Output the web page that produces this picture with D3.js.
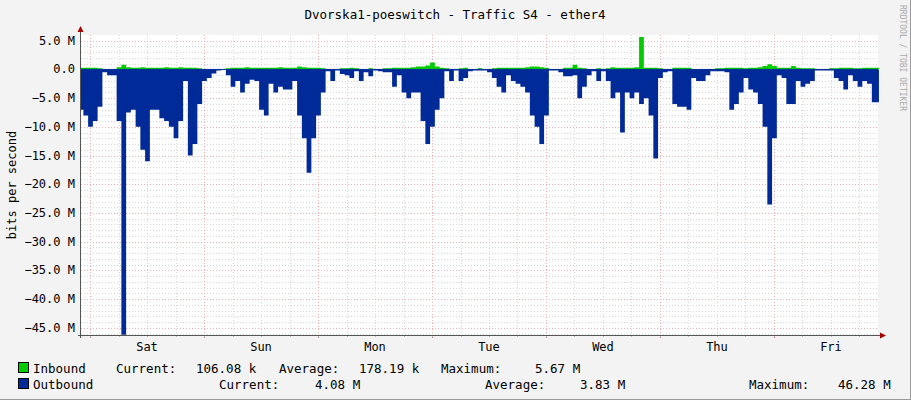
<!DOCTYPE html>
<html><head><meta charset="utf-8">
<script src="https://cdn.jsdelivr.net/npm/d3@7"></script>
<style>body{margin:0;background:#f3f3f3}text{font-family:"DejaVu Sans Mono",monospace}</style>
</head><body><svg id="c" width="911" height="400"></svg>
<script>
const title = "Dvorska1-poeswitch - Traffic S4 - ether4";
const startHour = -1.9; // hours relative to Sat 00:00
const dayLabels = ["Sat","Sun","Mon","Tue","Wed","Thu","Fri"];
const yTicks = [5,0,-5,-10,-15,-20,-25,-30,-35,-40,-45];
const outbound = [-7,-8,-10,-9,-6.5,-0.5,-1,-1,-9,-46.2,-7.5,-7,-10,-14,-16,-7,-7,-8.5,-9,-10,
-12,-9,-2,-15,-13,-6,-2,-1.5,-0.7,-0.2,0,-1,-3,-2,-4,-2.5,-1.8,-2,-7,-8,
-2.5,-4,-3,-3.5,-3.5,-2,-8,-12,-18,-12,-8,-4,-0.3,-2,-0.2,-0.8,-1,-1.5,-0.3,-2,
-0.5,-1.2,-0.2,-0.3,-0.5,-0.5,-3,-1,-4,-5,-4,-4,-9,-13,-10,-7,-5,-0.3,-2,-0.2,
-2,-1.5,-0.3,-0.2,-0.2,-0.2,-0.5,-1.5,-3,-4,-1,-2,-2.5,-3,-4,-8,-10,-13,-8,-0.2,
-0.2,-0.5,-1.2,-1.2,-1,-5,-3,-1,-0.3,-2,-0.3,-2,-5,-4,-11,-4,-5,-4,-6,-5,
-8,-15.5,-1.5,-0.5,-0.3,-6,-6.5,-6.5,-7,-1.5,-2,-2,-1,-0.3,-0.3,-0.3,-0.5,-7,-6,-4,
-1.5,-3.5,-4,-6,-10,-23.5,-12,-1,-1.5,-6,-6,-2,-3,-2.5,-2,-0.2,-0.2,-0.2,-0.2,-1.5,
-2,-3.5,-1,-2,-3,-2,-2.5,-5.7,-5.7];
const inbound = [0.3,0.3,0.3,0.3,0.2,0.1,0.1,0.1,0.4,0.8,0.4,0.3,0.3,0.4,0.3,0.3,0.3,0.3,0.4,0.3,
0.3,0.4,0.3,0.3,0.3,0.2,0.1,0.1,0.1,0.1,0.1,0.2,0.3,0.3,0.3,0.4,0.3,0.3,0.3,0.3,
0.3,0.3,0.4,0.3,0.3,0.3,0.5,0.4,0.3,0.3,0.3,0.2,0.1,0.1,0.1,0.2,0.2,0.3,0.2,0.1,
0.1,0.2,0.1,0.1,0.2,0.2,0.3,0.3,0.3,0.3,0.4,0.5,0.5,0.7,1.2,0.5,0.3,0.2,0.1,0.1,
0.2,0.3,0.1,0.1,0.2,0.1,0.1,0.2,0.3,0.3,0.3,0.3,0.3,0.3,0.4,0.5,0.5,0.4,0.3,0.1,
0.1,0.1,0.3,0.3,0.8,0.3,0.2,0.1,0.1,0.2,0.1,0.2,0.4,0.3,0.3,0.3,0.3,0.4,5.67,0.3,
0.3,0.3,0.2,0.1,0.1,0.3,0.3,0.3,0.3,0.1,0.1,0.1,0.1,0.1,0.2,0.2,0.3,0.3,0.3,0.3,
0.2,0.3,0.3,0.4,0.6,0.9,0.6,0.3,0.3,0.3,0.6,0.3,0.2,0.2,0.2,0.1,0.1,0.1,0.2,0.2,
0.3,0.3,0.3,0.2,0.2,0.3,0.3,0.3,0.3];
const legend = [
 ["Inbound",33,373],["Current:",116,373],["106.08 k",196,373],["Average:",279,373],["178.19 k",359,373],["Maximum:",441,373],["5.67 M",535,373],
 ["Outbound",33,389],["Current:",219,389],["4.08 M",315,389],["Average:",485,389],["3.83 M",580,389],["Maximum:",749,389],["46.28 M",838,389]
];

const svg = d3.select("#c");
const L=81,R=878,T=35,B=335;
const x = d3.scaleLinear().domain([startHour, startHour+167.8]).range([L,R]);
const y = d3.scaleLinear().domain([6.0,-46.25]).range([T,B]);
svg.append("rect").attr("x",0).attr("y",0).attr("width",911).attr("height",400).attr("fill","#f3f3f3");
svg.append("rect").attr("x",L).attr("y",T).attr("width",R-L).attr("height",B-T).attr("fill","#fff");
const g = svg.append("g");
d3.range(5,-47,-1).forEach(v=>{ if(v%5!==0) g.append("line").attr("x1",L).attr("x2",R).attr("y1",Math.round(y(v))+.5).attr("y2",Math.round(y(v))+.5).attr("stroke","#d8d8d8").attr("stroke-dasharray","1,2");});
d3.range(-0,168,6).forEach(h=>{ const xx=Math.round(x(h))+.5; if(xx>L&&xx<R&&h%24!==0) g.append("line").attr("x1",xx).attr("x2",xx).attr("y1",T).attr("y2",B).attr("stroke","#d8d8d8").attr("stroke-dasharray","1,2");});
yTicks.forEach(v=>g.append("line").attr("x1",L).attr("x2",R).attr("y1",Math.round(y(v))+.5).attr("y2",Math.round(y(v))+.5).attr("stroke","#f0b0b0").attr("stroke-dasharray","1,2"));
d3.range(0,168,24).forEach(h=>{const xx=Math.round(x(h))+.5; g.append("line").attr("x1",xx).attr("x2",xx).attr("y1",T).attr("y2",B).attr("stroke","#f0b0b0").attr("stroke-dasharray","1,2");
 g.append("line").attr("x1",xx).attr("x2",xx).attr("y1",B).attr("y2",B+3).attr("stroke","#e08080");});
d3.range(0,174,6).forEach(h=>{const xx=Math.round(x(h-6))+.5; if(xx>L&&xx<R) g.append("line").attr("x1",xx).attr("x2",xx).attr("y1",B).attr("y2",B+2).attr("stroke","#bbb");});
const xs=(d,i)=>x(startHour+i);
svg.append("path").datum(outbound).attr("fill","#002a97").attr("d",d3.area().curve(d3.curveStep).x(xs).y0(y(0)).y1(d=>y(d)));
svg.append("path").datum(inbound).attr("fill","#00cc00").attr("d",d3.area().curve(d3.curveStep).x(xs).y0(y(0)).y1(d=>y(d)));
svg.append("line").attr("x1",L).attr("x2",R).attr("y1",y(0)).attr("y2",y(0)).attr("stroke","#002a97").attr("stroke-width",1);
svg.append("line").attr("x1",L-.5).attr("x2",L-.5).attr("y1",T-6).attr("y2",B+3).attr("stroke","#555");
svg.append("line").attr("x1",L-3).attr("x2",R+4).attr("y1",B+.5).attr("y2",B+.5).attr("stroke","#555");
svg.append("path").attr("d",`M${L-3.5},${T-3}L${L-.5},${T-9}L${L+2.5},${T-3}Z`).attr("fill","#a00");
svg.append("path").attr("d",`M${R+2},${B-2.5}L${R+8},${B+.5}L${R+2},${B+3.5}Z`).attr("fill","#a00");
yTicks.forEach(v=>svg.append("text").attr("x",75).attr("y",y(v)+4).attr("text-anchor","end").attr("font-size",12).attr("fill","#000").text(v===0?"0.0":d3.format(".1f")(v)+" M"));
dayLabels.forEach((d,i)=>svg.append("text").attr("x",x(12+24*i)).attr("y",351).attr("text-anchor","middle").attr("font-size",12).text(d));
svg.append("text").attr("x",455).attr("y",19).attr("text-anchor","middle").attr("font-size",12.5).text(title);
svg.append("text").attr("transform","translate(16,185) rotate(-90)").attr("text-anchor","middle").attr("font-size",12).text("bits per second");
svg.append("text").attr("transform","translate(900,5) rotate(90)").attr("font-size",8).attr("fill","#aaa").text("RRDTOOL / TOBI OETIKER");
svg.append("rect").attr("x",18.5).attr("y",362.5).attr("width",10).attr("height",10).attr("fill","#00cc00").attr("stroke","#000");
svg.append("rect").attr("x",18.5).attr("y",378.5).attr("width",10).attr("height",10).attr("fill","#002a97").attr("stroke","#000");
legend.forEach(l=>svg.append("text").attr("x",l[1]).attr("y",l[2]).attr("font-size",12.5).attr("xml:space","preserve").text(l[0]));
svg.append("line").attr("x1",0).attr("x2",911).attr("y1",399.5).attr("y2",399.5).attr("stroke","#999");
svg.append("line").attr("x1",910.5).attr("x2",910.5).attr("y1",0).attr("y2",400).attr("stroke","#999");
</script></body></html>
